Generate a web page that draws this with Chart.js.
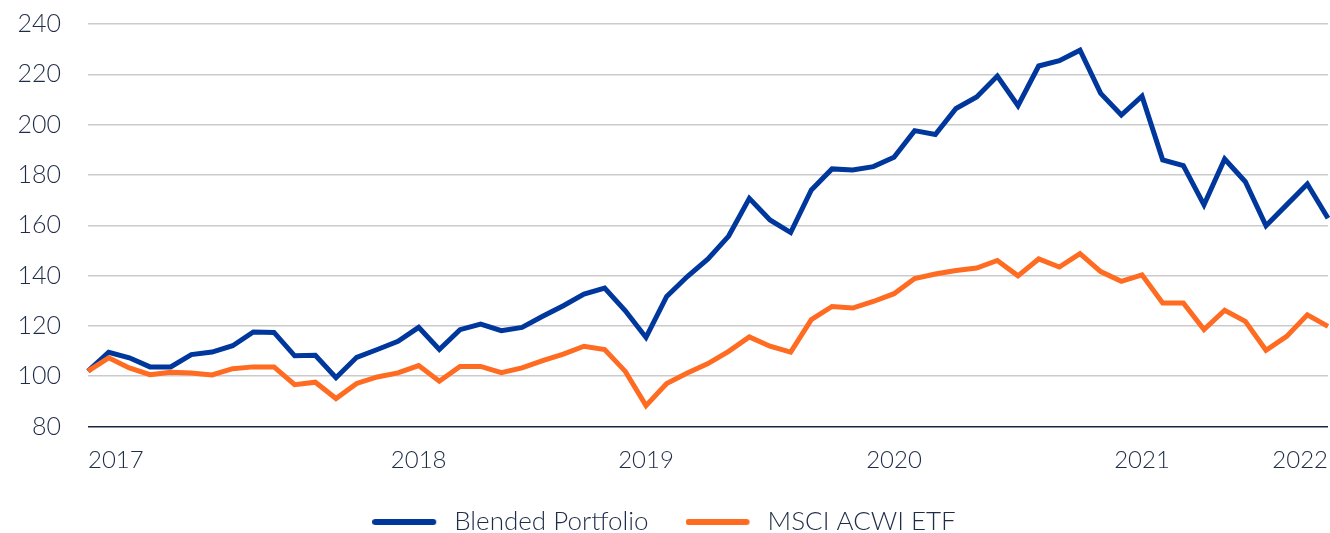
<!DOCTYPE html>
<html>
<head>
<meta charset="utf-8">
<script src="https://cdn.jsdelivr.net/npm/chart.js@4/dist/chart.umd.min.js"></script>
<style>
  html, body { margin: 0; padding: 0; background: #fff; }
  #wrap { width: 1330px; height: 533px; }
</style>
</head>
<body>
<div id="wrap"><canvas id="perf" width="1330" height="533"></canvas></div>
<script>
// monthly index values, Jan 2017 .. Jan 2022
const yearLabels = ['2017', '2018', '2019', '2020', '2021', '2022'];
const yearAt     = [0, 16, 27, 39, 51, 60];

const blended = [
  102, 109.5, 107.3, 103.7, 103.7, 108.6, 109.6, 112.1, 117.6, 117.4, 108.1, 108.3,
  99.4, 107.5, 110.6, 113.9, 119.4, 110.6, 118.5, 120.7, 118.1, 119.4, 123.8, 128,
  132.6, 135, 126, 115.4, 131.7, 139.6, 146.6, 155.7, 170.7, 162.1, 157.1, 174,
  182.4, 182, 183.3, 187, 197.6, 196.1, 206.4, 211, 219.3, 207.5, 223.3, 225.4,
  229.6, 212.4, 203.8, 211.3, 186, 183.7, 168.1, 186.3, 177.3, 159.8, 168.1, 176.4,
  162.8
];
const acwi = [
  102, 107.3, 103.3, 100.6, 101.6, 101.3, 100.5, 103, 103.7, 103.7, 96.6, 97.6,
  91.1, 97.1, 99.7, 101.3, 104.2, 98, 103.9, 103.9, 101.4, 103.3, 106.2, 108.8,
  111.9, 110.6, 101.9, 88.3, 97.1, 101.3, 105, 109.9, 115.6, 111.9, 109.6, 122.5,
  127.7, 127.1, 129.7, 132.8, 138.8, 140.6, 142, 143, 146, 139.9, 146.6, 143.4,
  148.7, 141.6, 137.7, 140.3, 129.1, 129.1, 118.5, 126.2, 121.8, 110.3, 115.8, 124.4,
  119.8
];

const BLUE   = '#00379c';
const ORANGE = '#ff6b21';
const INK    = '#1f2c48';
const FONT   = "'Lato', 'Open Sans', sans-serif";

const xLabels = blended.map(() => '');
yearAt.forEach((idx, k) => { xLabels[idx] = yearLabels[k]; });

// thick rounded line used as legend marker, with a gap before the text
function lineSwatch(color) {
  const c = document.createElement('canvas');
  c.width = 69; c.height = 6;
  const g = c.getContext('2d');
  g.strokeStyle = color;
  g.lineWidth = 6;
  g.lineCap = 'round';
  g.beginPath(); g.moveTo(3, 3); g.lineTo(61, 3); g.stroke();
  return c;
}
const swatches = [lineSwatch(BLUE), lineSwatch(ORANGE)];

new Chart(document.getElementById('perf'), {
  type: 'line',
  data: {
    labels: xLabels,
    datasets: [
      {
        label: 'Blended Portfolio',
        data: blended,
        borderColor: BLUE,
        backgroundColor: BLUE,
        borderWidth: 5,
        pointRadius: 0,
        tension: 0,
        order: 2,
      },
      {
        label: 'MSCI ACWI ETF',
        data: acwi,
        borderColor: ORANGE,
        backgroundColor: ORANGE,
        borderWidth: 5,
        pointRadius: 0,
        tension: 0,
        order: 1,
      }
    ]
  },
  options: {
    responsive: false,
    animation: false,
    layout: { padding: { top: 24, right: 2, left: 0, bottom: -12 } },
    plugins: {
      tooltip: { enabled: false },
      legend: {
        position: 'bottom',
        labels: {
          usePointStyle: true,
          pointStyleWidth: 69,
          padding: 37,
          color: INK,
          font: { family: FONT, size: 26, weight: 300 },
          sort: (a, b) => a.datasetIndex - b.datasetIndex,
          generateLabels(chart) {
            return Chart.defaults.plugins.legend.labels.generateLabels(chart)
              .map(l => ({ ...l, pointStyle: swatches[l.datasetIndex] }));
          }
        }
      }
    },
    scales: {
      x: {
        grid: { display: false, drawTicks: false },
        border: { display: false },
        ticks: {
          autoSkip: false,
          maxRotation: 0,
          align: 'inner',
          padding: 19,
          color: INK,
          font: { family: FONT, size: 24, weight: 300 },
        },
        afterFit: s => { s.height = 45.5; s.paddingLeft = 0; s.paddingRight = 0; }
      },
      y: {
        min: 80, max: 240,
        border: { display: false },
        grid: {
          drawTicks: false,
          lineWidth: 1.5,
          color: c => c.tick && c.tick.value === 80 ? '#1c2642' : '#cbcbcb',
        },
        ticks: {
          stepSize: 20,
          padding: 27,
          color: INK,
          font: { family: FONT, size: 25, weight: 300 },
        },
        afterFit: s => { s.width = 88; s.paddingTop = 0; s.paddingBottom = 0; }
      }
    }
  }
});
</script>
</body>
</html>
